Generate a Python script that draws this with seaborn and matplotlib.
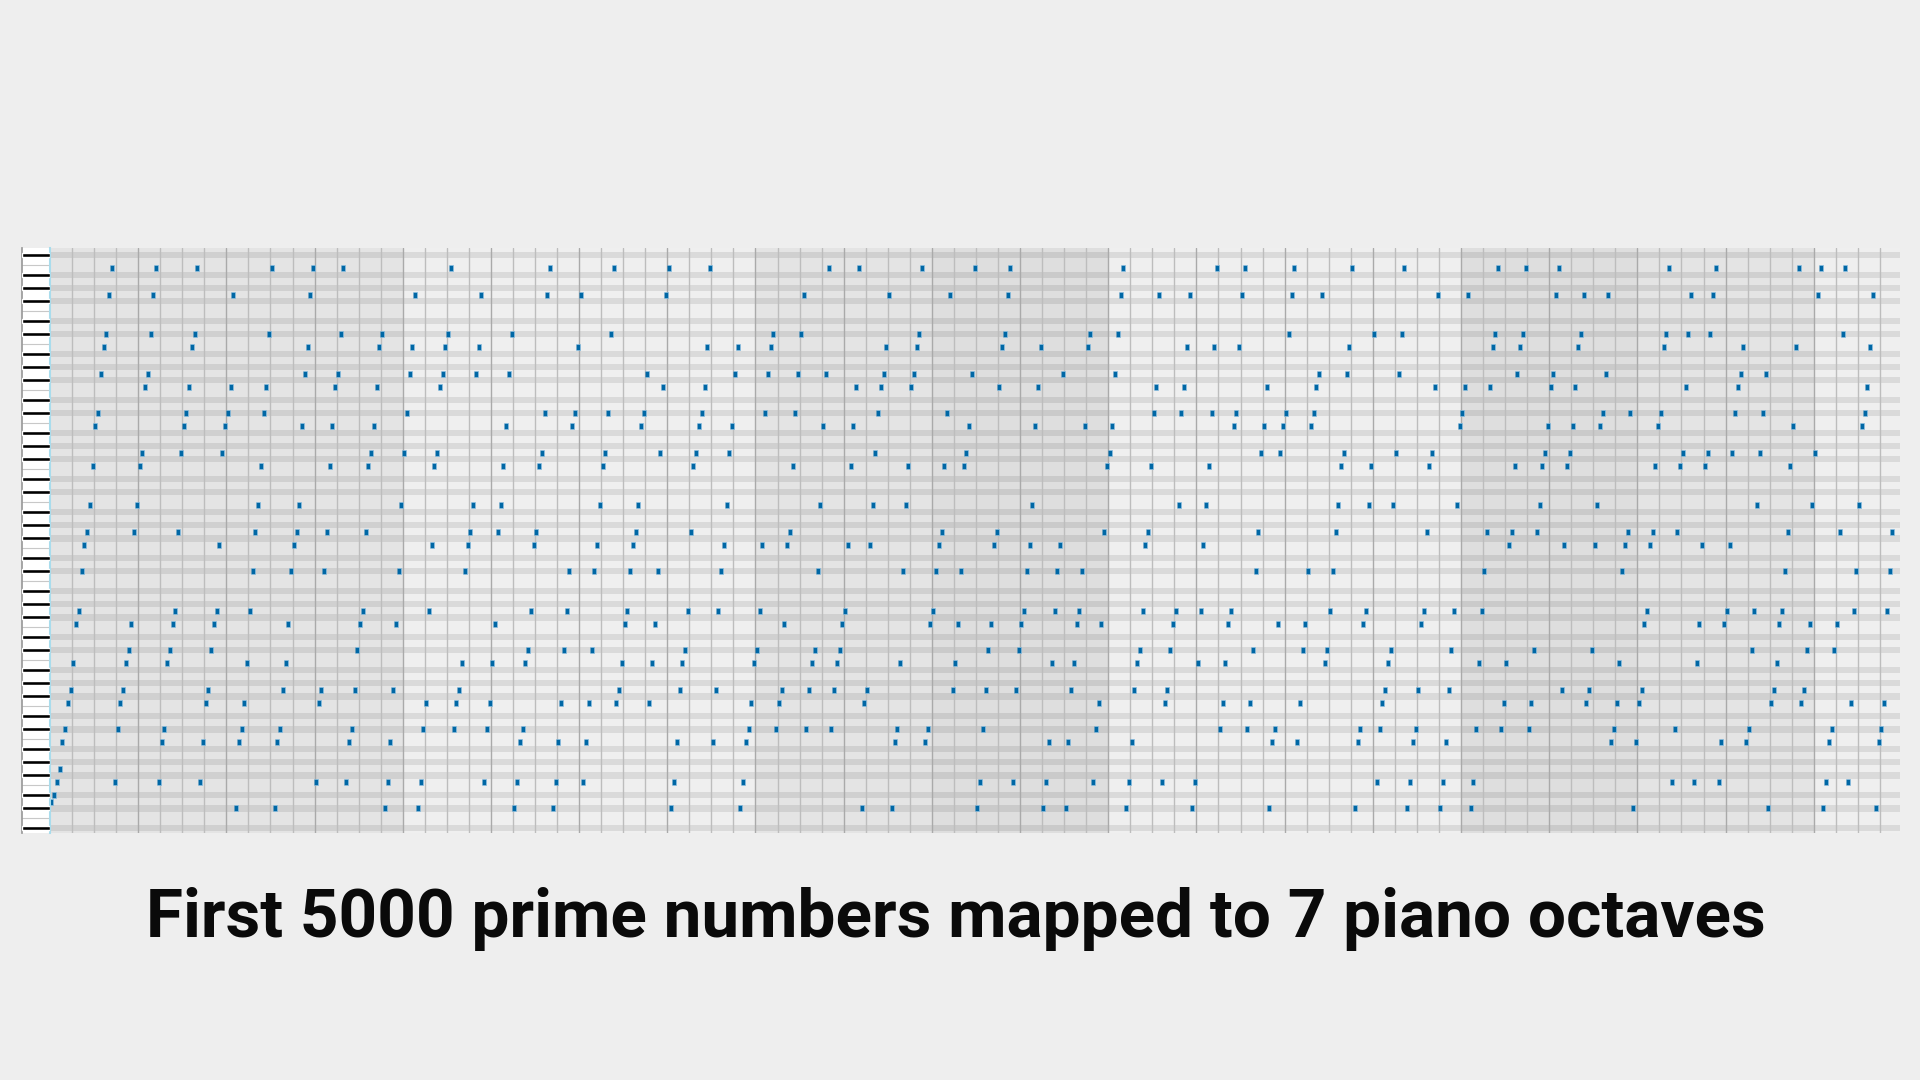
import matplotlib.pyplot as plt
import numpy as np
import pandas as pd
import seaborn as sns


sns.set_theme(style="white")
plt.rcParams["font.family"] = ["Roboto", "DejaVu Sans"]
bg, note_blue, note_edge = "#eeeeee", "#0067a5", "#8dbfe0"

# primes below 5000, split by thousand
primes_0k = [
    2, 3, 5, 7, 11, 13, 17, 19, 23, 29, 31, 37, 41, 43, 47, 53, 59, 61, 67, 71, 73, 79, 83, 89, 97,
    101, 103, 107, 109, 113, 127, 131, 137, 139, 149, 151, 157, 163, 167, 173, 179, 181, 191, 193, 197, 199,
    211, 223, 227, 229, 233, 239, 241, 251, 257, 263, 269, 271, 277, 281, 283, 293,
    307, 311, 313, 317, 331, 337, 347, 349, 353, 359, 367, 373, 379, 383, 389, 397,
    401, 409, 419, 421, 431, 433, 439, 443, 449, 457, 461, 463, 467, 479, 487, 491, 499,
    503, 509, 521, 523, 541, 547, 557, 563, 569, 571, 577, 587, 593, 599,
    601, 607, 613, 617, 619, 631, 641, 643, 647, 653, 659, 661, 673, 677, 683, 691,
    701, 709, 719, 727, 733, 739, 743, 751, 757, 761, 769, 773, 787, 797,
    809, 811, 821, 823, 827, 829, 839, 853, 857, 859, 863, 877, 881, 883, 887,
    907, 911, 919, 929, 937, 941, 947, 953, 967, 971, 977, 983, 991, 997,
]
primes_1k = [
    1009, 1013, 1019, 1021, 1031, 1033, 1039, 1049, 1051, 1061, 1063, 1069, 1087, 1091, 1093, 1097,
    1103, 1109, 1117, 1123, 1129, 1151, 1153, 1163, 1171, 1181, 1187, 1193,
    1201, 1213, 1217, 1223, 1229, 1231, 1237, 1249, 1259, 1277, 1279, 1283, 1289, 1291, 1297,
    1301, 1303, 1307, 1319, 1321, 1327, 1361, 1367, 1373, 1381, 1399,
    1409, 1423, 1427, 1429, 1433, 1439, 1447, 1451, 1453, 1459, 1471, 1481, 1483, 1487, 1489, 1493, 1499,
    1511, 1523, 1531, 1543, 1549, 1553, 1559, 1567, 1571, 1579, 1583, 1597,
    1601, 1607, 1609, 1613, 1619, 1621, 1627, 1637, 1657, 1663, 1667, 1669, 1693, 1697, 1699,
    1709, 1721, 1723, 1733, 1741, 1747, 1753, 1759, 1777, 1783, 1787, 1789,
    1801, 1811, 1823, 1831, 1847, 1861, 1867, 1871, 1873, 1877, 1879, 1889,
    1901, 1907, 1913, 1931, 1933, 1949, 1951, 1973, 1979, 1987, 1993, 1997, 1999,
]
primes_2k = [
    2003, 2011, 2017, 2027, 2029, 2039, 2053, 2063, 2069, 2081, 2083, 2087, 2089, 2099,
    2111, 2113, 2129, 2131, 2137, 2141, 2143, 2153, 2161, 2179,
    2203, 2207, 2213, 2221, 2237, 2239, 2243, 2251, 2267, 2269, 2273, 2281, 2287, 2293, 2297,
    2309, 2311, 2333, 2339, 2341, 2347, 2351, 2357, 2371, 2377, 2381, 2383, 2389, 2393, 2399,
    2411, 2417, 2423, 2437, 2441, 2447, 2459, 2467, 2473, 2477,
    2503, 2521, 2531, 2539, 2543, 2549, 2551, 2557, 2579, 2591, 2593,
    2609, 2617, 2621, 2633, 2647, 2657, 2659, 2663, 2671, 2677, 2683, 2687, 2689, 2693, 2699,
    2707, 2711, 2713, 2719, 2729, 2731, 2741, 2749, 2753, 2767, 2777, 2789, 2791, 2797,
    2801, 2803, 2819, 2833, 2837, 2843, 2851, 2857, 2861, 2879, 2887, 2897,
    2903, 2909, 2917, 2927, 2939, 2953, 2957, 2963, 2969, 2971, 2999,
]
primes_3k = [
    3001, 3011, 3019, 3023, 3037, 3041, 3049, 3061, 3067, 3079, 3083, 3089,
    3109, 3119, 3121, 3137, 3163, 3167, 3169, 3181, 3187, 3191,
    3203, 3209, 3217, 3221, 3229, 3251, 3253, 3257, 3259, 3271, 3299,
    3301, 3307, 3313, 3319, 3323, 3329, 3331, 3343, 3347, 3359, 3361, 3371, 3373, 3389, 3391,
    3407, 3413, 3433, 3449, 3457, 3461, 3463, 3467, 3469, 3491, 3499,
    3511, 3517, 3527, 3529, 3533, 3539, 3541, 3547, 3557, 3559, 3571, 3581, 3583, 3593,
    3607, 3613, 3617, 3623, 3631, 3637, 3643, 3659, 3671, 3673, 3677, 3691, 3697,
    3701, 3709, 3719, 3727, 3733, 3739, 3761, 3767, 3769, 3779, 3793, 3797,
    3803, 3821, 3823, 3833, 3847, 3851, 3853, 3863, 3877, 3881, 3889,
    3907, 3911, 3917, 3919, 3923, 3929, 3931, 3943, 3947, 3967, 3989,
]
primes_4k = [
    4001, 4003, 4007, 4013, 4019, 4021, 4027, 4049, 4051, 4057, 4073, 4079, 4091, 4093, 4099,
    4111, 4127, 4129, 4133, 4139, 4153, 4157, 4159, 4177,
    4201, 4211, 4217, 4219, 4229, 4231, 4241, 4243, 4253, 4259, 4261, 4271, 4273, 4283, 4289, 4297,
    4327, 4337, 4339, 4349, 4357, 4363, 4373, 4391, 4397,
    4409, 4421, 4423, 4441, 4447, 4451, 4457, 4463, 4481, 4483, 4493,
    4507, 4513, 4517, 4519, 4523, 4547, 4549, 4561, 4567, 4583, 4591, 4597,
    4603, 4621, 4637, 4639, 4643, 4649, 4651, 4657, 4663, 4673, 4679, 4691,
    4703, 4721, 4723, 4729, 4733, 4751, 4759, 4783, 4787, 4789, 4793, 4799,
    4801, 4813, 4817, 4831, 4861, 4871, 4877, 4889,
    4903, 4909, 4919, 4931, 4933, 4937, 4943, 4951, 4957, 4967, 4969, 4973, 4987, 4993, 4999,
]
primes = np.array(primes_0k + primes_1k + primes_2k + primes_3k + primes_4k)

# piano range shown (MIDI), notes = lowest C + prime mod 7 octaves
key_low, key_high, base_note = 22, 109, 24
title = "First 5000 prime numbers mapped to 7 piano octaves"

notes = pd.DataFrame({"step": np.arange(len(primes)) + 0.5, "midi": base_note + primes % 84})
keys = np.arange(key_low, key_high + 1)
is_black = np.isin(keys % 12, [1, 3, 6, 8, 10])

# background shade per 32-step block
block_shade = ["#e4e4e4"] * 4 + ["#efefef"] * 4 + ["#e4e4e4"] * 2 + ["#dedede"] * 2 + \
              ["#efefef"] * 4 + ["#dedede"] * 2 + ["#e4e4e4"] * 2 + ["#efefef"]

fig = plt.figure(figsize=(19.2, 10.8), dpi=100, facecolor=bg)
W, H = 1920, 1080
top, bottom = 248, 833
ax = fig.add_axes([50 / W, 1 - bottom / H, 1850 / W, (bottom - top) / H])
ax.set_xlim(0, 671.3)
ax.set_ylim(21.24, 110.07)
ax.set_facecolor(bg)
for i, shade in enumerate(block_shade):
    ax.axvspan(i * 32, (i + 1) * 32, color=shade, lw=0, zorder=0)
for k in keys[is_black]:
    ax.axhspan(k - 0.5, k + 0.5, color="black", alpha=0.085, lw=0, zorder=1)
for x in range(8, 672, 8):
    ax.axvline(x, color="#aaaaaa" if x % 32 == 0 else "#bdbdbd", lw=1.0, zorder=2)

rect = [(-0.55, -1), (0.55, -1), (0.55, 1), (-0.55, 1)]
sns.scatterplot(data=notes, x="step", y="midi", marker=rect, s=19, color=note_blue,
                edgecolor=note_edge, linewidth=0.5, ax=ax, zorder=5, legend=False)
ax.set_xlabel("")
ax.set_ylabel("")
ax.set_xticks([])
ax.set_yticks([])
for s in ax.spines.values():
    s.set_visible(False)

# piano keyboard strip
kax = fig.add_axes([22 / W, 1 - bottom / H, 28 / W, (bottom - top) / H])
kax.set_facecolor("white")
kax.set_xlim(0, 1)
kax.set_ylim(21.24, 110.07)
kax.barh(keys[is_black], 1, height=0.62, color="black", zorder=3)
for k in keys[~is_black]:
    if (k - 1) % 12 in (4, 11):
        kax.axhline(k - 0.5, color="#c8c8c8", lw=0.8, zorder=2)
kax.set_xticks([])
kax.set_yticks([])
for name, s in kax.spines.items():
    s.set_visible(name in ("left", "right"))
kax.spines["left"].set_color("#9a9a9a")
kax.spines["right"].set_color("#a9dcec")
kax.spines["right"].set_linewidth(1.5)

# title, sized so its width matches the reference (about 1620 px)
t = fig.text(0.498, 1 - 937 / H, title, ha="center", va="baseline", fontsize=50,
             fontweight="bold", color="#0a0a0a")
fig.canvas.draw()
t.set_fontsize(50 * 1620 / t.get_window_extent().width)

fig.savefig("out.png", dpi=100, facecolor=bg)
